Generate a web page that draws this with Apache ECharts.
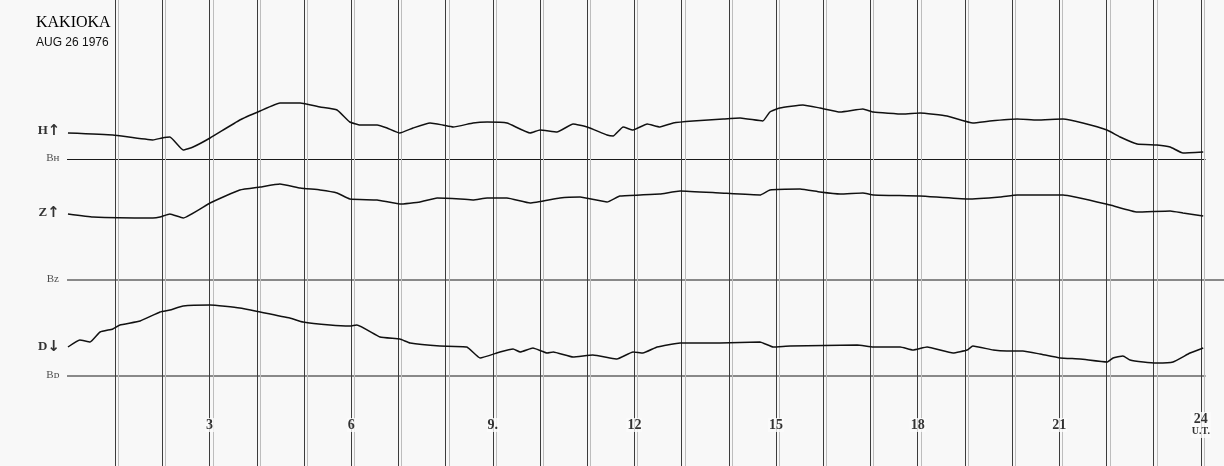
<!DOCTYPE html>
<html><head><meta charset="utf-8">
<script src="https://cdn.jsdelivr.net/npm/echarts@6/dist/echarts.min.js"></script>
<style>html,body{margin:0;padding:0;background:#f8f8f8}#c{width:1224px;height:466px}</style>
</head><body><div id="c"></div>
<script>
// time in hours UT, deflection above baseline (trace units)
const hH = [0,0.95,1.8,1.99,2.16,2.44,2.65,3.01,3.64,4.07,4.49,4.92,5.34,5.7,5.97,6.19,6.55,6.76,7.03,7.31,7.67,7.94,8.16,8.58,8.88,9.3,9.79,10.0,10.36,10.7,11.0,11.42,11.55,11.76,11.97,12.27,12.54,12.82,13.24,13.88,14.24,14.72,14.87,15.08,15.57,15.93,16.36,16.84,17.06,17.69,18.05,18.62,19.17,19.53,20.11,20.53,21.08,21.5,22.01,22.29,22.65,23.07,23.35,23.62,24.05];
const vH = [26.5,24.5,19.5,21.5,22.5,9.5,12.5,21.5,39.5,48.5,56.5,56.5,52.5,49.5,37.5,34.5,34.5,31.5,26.5,31.5,36.5,34.5,32.5,36.5,37.5,36.5,26.5,29.5,27.5,35.5,32.5,24.5,23.5,32.5,29.5,35.5,32.5,36.5,38.5,40.5,41.5,38.5,47.5,51.5,54.5,51.5,47.5,50.5,47.5,45.5,46.5,43.5,36.5,38.5,40.5,39.5,40.5,36.5,29.5,22.5,15.5,14.5,12.5,6.5,7.5];
const hZ = [0,0.53,1.8,1.95,2.16,2.44,3.01,3.64,4.07,4.49,4.92,5.34,5.7,5.97,6.55,7.03,7.46,7.82,8.31,8.58,8.88,9.3,9.79,10.42,10.85,11.42,11.69,12.12,12.54,12.97,13.81,14.66,14.87,15.51,15.93,16.36,16.84,17.06,18.05,19.05,19.75,20.11,21.08,22.08,22.65,23.35,23.62,24.05];
const vZ = [66,63,62,63,66,62,77,90,93,96,92,90,87,81,80,76,78,82,81,80,82,82,77,82,83,78,84,85,86,89,87,85,90,91,88,86,87,85,84,81,83,85,85,75,68,69,67,64];
const hD = [0,0.25,0.47,0.68,0.95,1.1,1.53,1.95,2.16,2.44,3.01,3.64,4.07,4.7,4.98,5.55,5.97,6.12,6.61,7.03,7.25,7.88,8.45,8.73,9.15,9.43,9.58,9.85,10.15,10.28,10.7,11.12,11.48,11.63,11.97,12.18,12.48,12.97,13.81,14.66,14.94,15.3,16.72,17.06,17.63,17.9,18.2,18.75,19.05,19.17,19.6,19.89,20.23,20.59,21.02,21.44,22.01,22.14,22.35,22.5,22.78,23.07,23.41,23.77,24.05];
const vD = [29,36,34,44,47,51,55,64,66,70,71,68,64,58,54,51,50,51,39,37,33,30,29,18,24,27,24,28,23,24,19,21,18,17,24,23,29,33,33,34,29,30,31,29,29,26,29,23,26,30,26,25,25,22,18,17,14,18,20,16,14,13,14,23,28];

const hourLines = [1,2,3,4,5,6,7,8,9,10,11,12,13,14,15,16,17,18,19,20,21,22,23,24];
const hourLabels = ['3','6','9.','12','15','18','21','24'];
const hourLabelAt = [3,6,9,12,15,18,21,24];

const traceNames = ['H','Z','D'];
const traceArrows = ['↑','↑','↓'];
const baseNames = ['Bʜ','Bz','Bᴅ'];
// baseline levels on the chart paper (0 at top, 466 at bottom)
const baseLevels = [159.5, 280, 376];

const X_MIN = -1.44, X_MAX = 24.49;

function trace(h, v, b){ return h.map((t,i)=>[t, b - v[i]]); }

const chart = echarts.init(document.getElementById('c'), null, {renderer:'canvas'});
const lineStyle = {color:'#111', width:1.5};

const series = [];
const traces = [[hH,vH],[hZ,vZ],[hD,vD]];
traces.forEach((tr,i)=>{
  series.push({type:'line', data:trace(tr[0],tr[1],baseLevels[i]), symbol:'none', smooth:0.12,
    lineStyle:lineStyle, silent:true, z:5});
});
// baselines
const baseEnd = [24.1, X_MAX, 24.1];
baseLevels.forEach((b,i)=>{
  series.push({type:'line', data:[[-0.02,b],[baseEnd[i],b]], symbol:'none',
    lineStyle:{color:'#1a1a1a', width:1.2}, silent:true, z:4});
});
// hour lines (double ruled)
series.push({type:'line', data:[], silent:true, markLine:{silent:true, symbol:'none', label:{show:false},
  lineStyle:{color:'#3c3c3c', width:1, type:'solid'},
  data: hourLines.map(h=>({xAxis:h}))}});
series.push({type:'line', data:[], silent:true, markLine:{silent:true, symbol:'none', label:{show:false},
  lineStyle:{color:'#bdbdbd', width:1, type:'solid'},
  data: hourLines.map(h=>({xAxis:h+0.07}))}});
// hour labels
series.push({type:'scatter', symbolSize:0, silent:true, z:10,
  data: hourLabelAt.map((h,i)=>({value:[h,425], name:hourLabels[i]})),
  label:{show:true, position:'inside', formatter:p=>p.name + (p.name==='24'?'\n{s|U.T.}':''),
    color:'#000', textBorderWidth:0, fontFamily:'Liberation Serif', fontWeight:'bold', fontSize:14,
    backgroundColor:'#fbfbfb', padding:[1,1], lineHeight:12,
    rich:{s:{fontSize:10, fontFamily:'Liberation Serif', fontWeight:'bold', color:'#000', textBorderWidth:0}}}});
// trace labels
series.push({type:'scatter', symbolSize:0, silent:true, z:10,
  data: traceNames.map((n,i)=>({value:[-0.4, [131,213,347][i]], name:n, arrow:traceArrows[i]})),
  label:{show:true, position:'inside', textBorderWidth:0, formatter:p=>'{a|'+p.name+'}{b|'+p.data.arrow+'}',
    rich:{a:{fontFamily:'Liberation Serif', fontWeight:'bold', fontSize:13, color:'#000', textBorderWidth:0},
          b:{fontFamily:'DejaVu Sans', fontSize:15, fontWeight:'bold', color:'#000', textBorderWidth:0}}}});
series.push({type:'scatter', symbolSize:0, silent:true, z:10,
  data: baseNames.map((n,i)=>({value:[-0.32, baseLevels[i]-1], name:n})),
  label:{show:true, position:'inside', textBorderWidth:0, formatter:p=>p.name,
    fontFamily:'Liberation Serif', fontSize:11, color:'#222'}});

chart.setOption({
  backgroundColor:'#f8f8f8',
  animation:false,
  title:{text:'KAKIOKA', subtext:'AUG 26 1976', left:31, top:10, itemGap:6,
    textStyle:{fontFamily:'Liberation Serif', fontSize:16, fontWeight:'normal', color:'#000'},
    subtextStyle:{fontFamily:'Liberation Sans Narrow, Liberation Sans', fontSize:12, color:'#111'}},
  grid:{left:0,right:0,top:0,bottom:0},
  xAxis:{type:'value', min:X_MIN, max:X_MAX, show:false},
  yAxis:{type:'value', min:0, max:466, inverse:true, show:false},
  series:series
});
</script></body></html>
